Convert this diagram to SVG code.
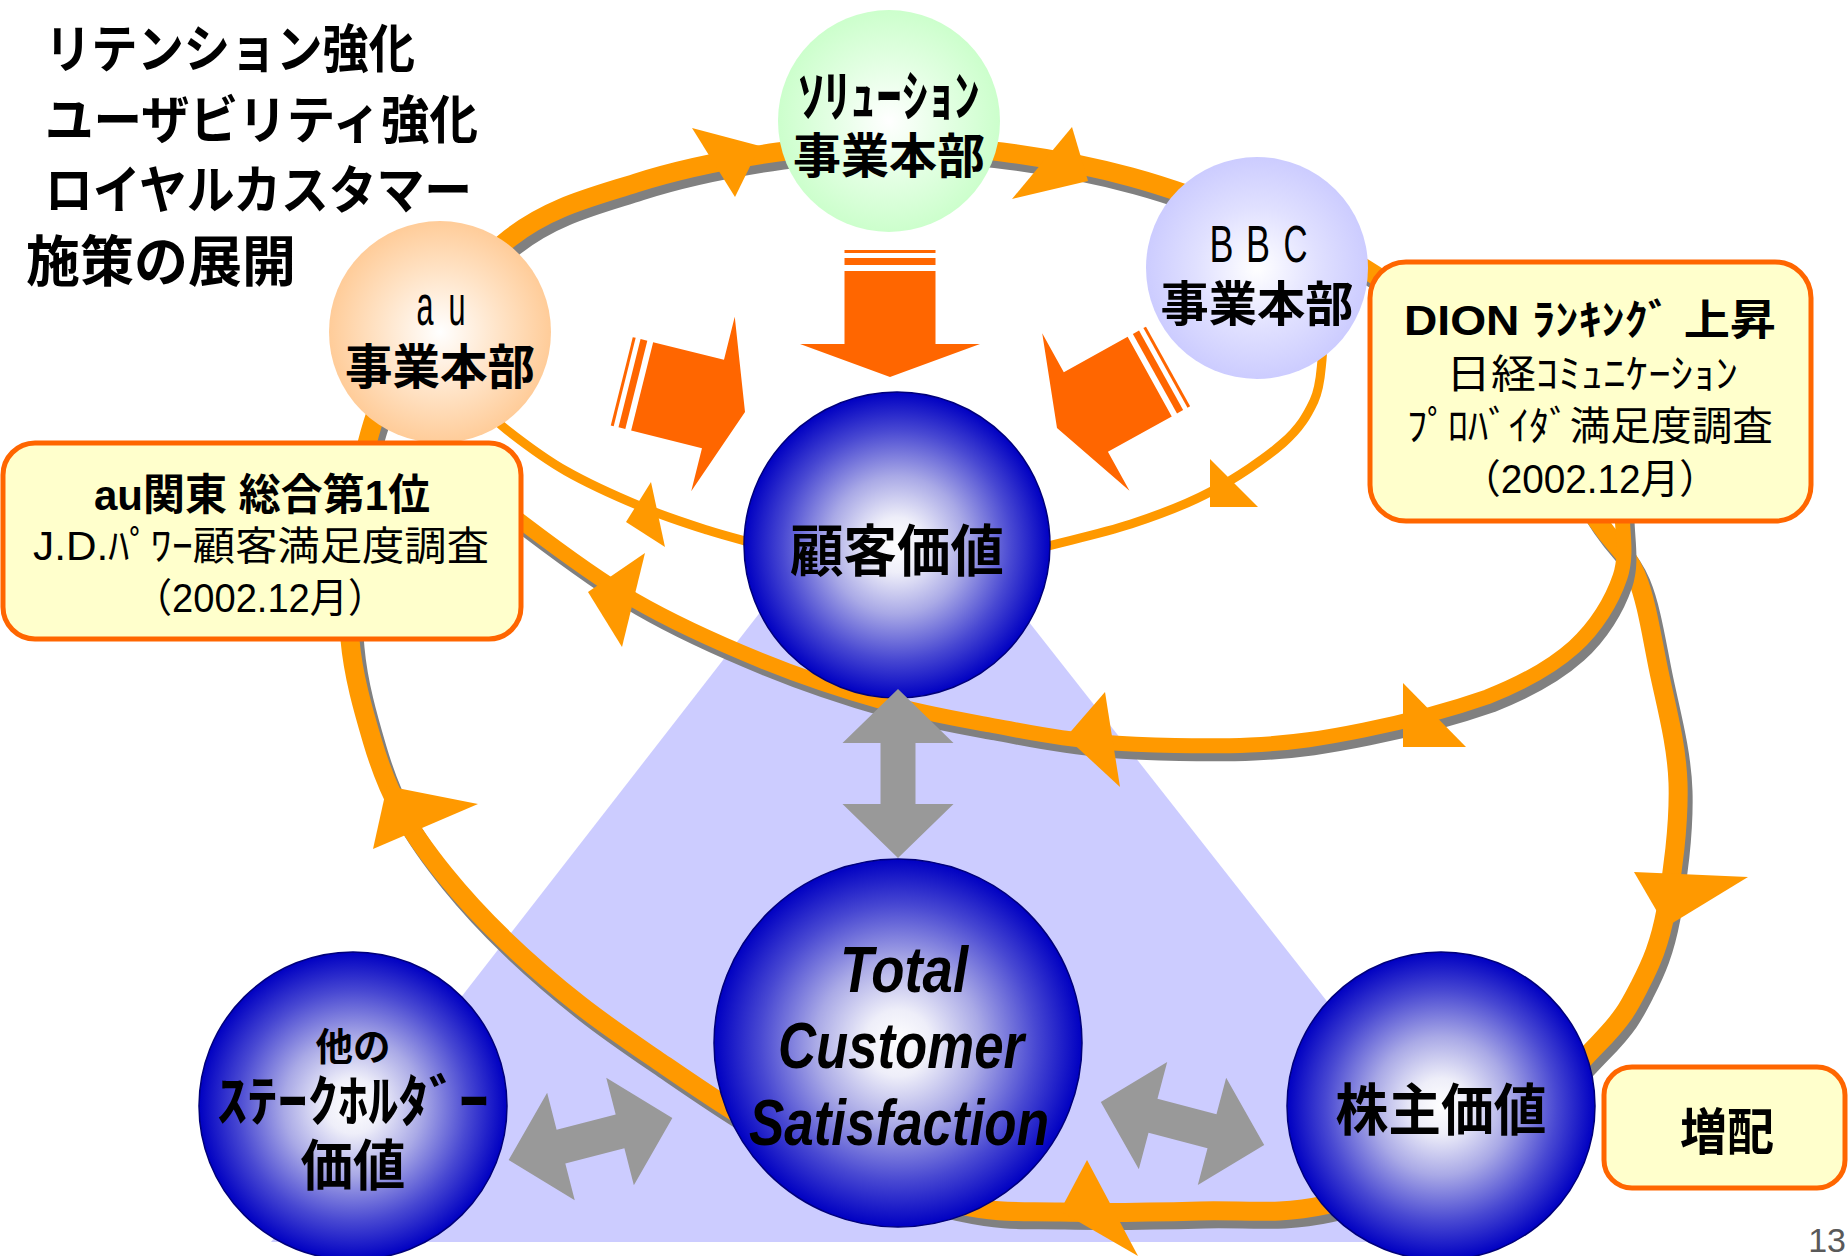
<svg xmlns="http://www.w3.org/2000/svg" width="1848" height="1256" viewBox="0 0 1848 1256">
<style>
.title{font-family:"Noto Sans CJK JP","Noto Sans CJK SC",sans-serif;font-weight:700;fill:#000}
.nt{font-family:"Noto Sans CJK JP","Noto Sans CJK SC",sans-serif;font-weight:700;fill:#000;text-anchor:middle}
.lat{font-family:"Liberation Sans","Noto Sans CJK JP",sans-serif;fill:#000;text-anchor:middle}
.bx{font-family:"Liberation Sans","Noto Sans CJK JP",sans-serif;fill:#000;text-anchor:middle}
.tcs{font-family:"Liberation Sans",sans-serif;font-style:italic;font-weight:700;fill:#000;text-anchor:middle;font-size:64px}
.band{fill:none;stroke:#FF9900;stroke-linecap:butt}
.shadow{fill:none;stroke:#808080}
.head{fill:#FF9900}
.blk{fill:#FF6600}
.gray{fill:#999999}
.box{fill:#FFFFCC;stroke:#FF6600;stroke-width:5}
.sphere{stroke:#00007A;stroke-width:1.5}
</style>
<defs>
<radialGradient id="gBlue" cx="50%" cy="50%" r="50%">
<stop offset="0" stop-color="#FFFFFF"/>
<stop offset="0.18" stop-color="#EEEEF9"/>
<stop offset="0.45" stop-color="#A9A9E6"/>
<stop offset="0.75" stop-color="#4848D2"/>
<stop offset="1" stop-color="#0000C2"/>
</radialGradient>
<radialGradient id="gPeach" cx="50%" cy="50%" r="50%">
<stop offset="0" stop-color="#FFFFFF"/>
<stop offset="0.55" stop-color="#FFE3C6"/>
<stop offset="1" stop-color="#FFCC99"/>
</radialGradient>
<radialGradient id="gGreen" cx="50%" cy="50%" r="50%">
<stop offset="0" stop-color="#FFFFFF"/>
<stop offset="0.55" stop-color="#E2FFE2"/>
<stop offset="1" stop-color="#CCFFCC"/>
</radialGradient>
<radialGradient id="gLav" cx="50%" cy="50%" r="50%">
<stop offset="0" stop-color="#FFFFFF"/>
<stop offset="0.55" stop-color="#E0E0FF"/>
<stop offset="1" stop-color="#CCCCFF"/>
</radialGradient>
<g id="blkArrow">
<rect x="-45.5" y="-127" width="91" height="3"/>
<rect x="-45.5" y="-119" width="91" height="7"/>
<polygon points="-45.5,-106 45.5,-106 45.5,-33 90,-33 0,0 -90,-33 -45.5,-33"/>
</g>
<polygon id="dblArrow" points="-84.5,0 -30.5,-55.5 -30.5,-17.5 30.5,-17.5 30.5,-55.5 84.5,0 30.5,55.5 30.5,17.5 -30.5,17.5 -30.5,55.5"/>
<path id="loopA" d="M510,238 C550.2,206.8 591.3,197.3 636,183 C680.7,168.7 735.7,158.2 778,152 C820.3,145.8 852.7,146 890,146 C927.3,146 961.8,146.8 1002,152 C1042.2,157.2 1088,165.3 1131,177 C1174,188.7 1219.3,205.7 1260,222 C1300.7,238.3 1334.2,247.8 1375,275 C1415.8,302.2 1468,344.2 1505,385 C1542,425.8 1575.2,488.3 1597,520 C1618.8,551.7 1625.8,550.5 1636,575 C1646.2,599.5 1651,632.3 1658,667 C1665,701.7 1676.7,742.5 1678,783 C1679.3,823.5 1672.3,876.3 1666,910 C1659.7,943.7 1651.5,962.5 1640,985 C1628.5,1007.5 1623.7,1017.5 1597,1045 C1570.3,1072.5 1525.3,1123.3 1480,1150 C1434.7,1176.7 1371.7,1194.8 1325,1205 C1278.3,1215.2 1244.2,1209.8 1200,1211 C1155.8,1212.2 1100,1213 1060,1212 C1020,1211 1000,1213.7 960,1205 C920,1196.3 856.7,1175 820,1160 C783.3,1145 766.7,1131.3 740,1115 C713.3,1098.7 686.7,1080.3 660,1062 C633.3,1043.7 605.8,1025.3 580,1005 C554.2,984.7 527.5,961.7 505,940 C482.5,918.3 462.5,896.7 445,875 C427.5,853.3 412.2,832.5 400,810 C387.8,787.5 380.3,768.3 372,740 C363.7,711.7 353.3,676.7 350,640 C346.7,603.3 344.5,565 352,520 C359.5,475 368.7,417 395,370 C421.3,323 469.8,269.2 510,238 Z"/>
<path id="loopB" d="M1622,505 C1621.3,529 1628,553.3 1620,577 C1612,600.7 1596.2,627 1574,647 C1551.8,667 1522,683.2 1487,697 C1447.5,710.8 1403.5,722 1364,730 C1324.5,738 1294,743 1250,745 C1206,747 1143.3,745.3 1100,742 C1056.7,738.7 1026.2,731.7 990,725 C953.8,718.3 921.3,712.8 883,702 C844.7,691.2 801.5,677 760,660 C718.5,643 673.5,622.8 634,600 C594.5,577.2 553.7,546.3 523,523 C492.3,499.7 474.3,481 450,460"/>
</defs>

<rect width="1848" height="1256" fill="#FFFFFF"/>

<g id="title">
<text class="title" x="45" y="68" font-size="52" textLength="370" lengthAdjust="spacingAndGlyphs">リテンション強化</text>
<text class="title" x="45" y="139" font-size="52" textLength="433" lengthAdjust="spacingAndGlyphs">ユーザビリティ強化</text>
<text class="title" x="45" y="209" font-size="52" textLength="427" lengthAdjust="spacingAndGlyphs">ロイヤルカスタマー</text>
<text class="title" x="26" y="281" font-size="55" textLength="270" lengthAdjust="spacingAndGlyphs">施策の展開</text>
</g>

<polygon id="tcs-field" points="890,445 1516,1242 271,1242" fill="#CCCCFF"/>

<g id="connectors">
<use href="#loopA" class="shadow" stroke-width="19" transform="translate(5,8)"/>
<use href="#loopA" class="band" stroke-width="19"/>
<use href="#loopB" class="shadow" stroke-width="15" transform="translate(5,8)"/>
<use href="#loopB" class="band" stroke-width="15"/>
<path class="band" stroke-width="9" d="M478,402 C487.7,411.3 492.3,418.5 507,430 C521.7,441.5 543.5,458.2 566,471 C588.5,483.8 618.5,497.2 642,507 C665.5,516.8 687.3,523.7 707,530 C726.7,536.3 742.3,540 760,545"/>
<path class="band" stroke-width="9" d="M1040,548 C1070.3,540 1102.7,533.3 1131,524 C1159.3,514.7 1184.7,505.5 1210,492 C1235.3,478.5 1265.7,458.2 1283,443 C1300.3,427.8 1307.5,414.8 1314,401 C1320.5,387.2 1320.7,371.8 1322,360 C1323.3,348.2 1322,340 1322,330"/>
<polygon class="head" points="692,128 735,197 760,146"/>
<polygon class="head" points="1072,127 1012,199 1088,181"/>
<polygon class="head" points="1634,872 1748,877 1666,927"/>
<polygon class="head" points="1087,1160 1138,1256 1060,1211"/>
<polygon class="head" points="478,804 373,849 387,786"/>
<polygon class="head" points="1403,683 1403,747 1466,747"/>
<polygon class="head" points="1105,692 1120,787 1066,737"/>
<polygon class="head" points="645,553 622,647 588,592"/>
<polygon class="head" points="651,482 665,547 626,522"/>
<polygon class="head" points="1210,459 1210,507 1258,507"/>
<use href="#blkArrow" class="blk" transform="translate(890,377)"/>
<use href="#blkArrow" class="blk" transform="translate(745,412) rotate(-76)"/>
<use href="#blkArrow" class="blk" transform="translate(1057,428) rotate(61)"/>
</g>

<g id="node-solution">
<circle cx="889" cy="121" r="111" fill="url(#gGreen)"/>
<text class="nt" x="889" y="116" font-size="56" textLength="182" lengthAdjust="spacingAndGlyphs">ｿﾘｭｰｼｮﾝ</text>
<text class="nt" x="889" y="173" font-size="48" textLength="192" lengthAdjust="spacingAndGlyphs">事業本部</text>
</g>

<g id="node-bbc">
<circle cx="1257" cy="268" r="111" fill="url(#gLav)"/>
<text class="lat" x="1221.5" y="262" font-size="52" textLength="24" lengthAdjust="spacingAndGlyphs">B</text>
<text class="lat" x="1258" y="262" font-size="52" textLength="24" lengthAdjust="spacingAndGlyphs">B</text>
<text class="lat" x="1295.5" y="262" font-size="52" textLength="24" lengthAdjust="spacingAndGlyphs">C</text>
<text class="nt" x="1257" y="321" font-size="48" textLength="193" lengthAdjust="spacingAndGlyphs">事業本部</text>
</g>

<g id="node-au">
<circle cx="440" cy="332" r="111" fill="url(#gPeach)"/>
<text class="lat" x="425" y="325" font-size="58" textLength="17" lengthAdjust="spacingAndGlyphs">a</text>
<text class="lat" x="457" y="325" font-size="58" textLength="17" lengthAdjust="spacingAndGlyphs">u</text>
<text class="nt" x="440" y="384" font-size="48" textLength="190" lengthAdjust="spacingAndGlyphs">事業本部</text>
</g>

<g id="node-customer-value">
<circle class="sphere" cx="897" cy="545" r="153" fill="url(#gBlue)"/>
<text class="nt" x="897" y="571" font-size="56" textLength="214" lengthAdjust="spacingAndGlyphs">顧客価値</text>
</g>

<g id="node-tcs">
<circle class="sphere" cx="898" cy="1043" r="184" fill="url(#gBlue)"/>
<text class="tcs" x="904" y="992" textLength="128" lengthAdjust="spacingAndGlyphs">Total</text>
<text class="tcs" x="901" y="1068" textLength="246" lengthAdjust="spacingAndGlyphs">Customer</text>
<text class="tcs" x="899" y="1145" textLength="300" lengthAdjust="spacingAndGlyphs">Satisfaction</text>
</g>

<g id="node-shareholder">
<circle class="sphere" cx="1441" cy="1106" r="154" fill="url(#gBlue)"/>
<text class="nt" x="1441" y="1130" font-size="56" textLength="211" lengthAdjust="spacingAndGlyphs">株主価値</text>
</g>

<g id="node-stakeholder">
<circle class="sphere" cx="353" cy="1106" r="154" fill="url(#gBlue)"/>
<text class="nt" x="353" y="1060" font-size="38" textLength="75" lengthAdjust="spacingAndGlyphs">他の</text>
<text class="nt" x="353" y="1121" font-size="56" textLength="272" lengthAdjust="spacingAndGlyphs">ｽﾃｰｸﾎﾙﾀﾞｰ</text>
<text class="nt" x="353" y="1185" font-size="55" textLength="105" lengthAdjust="spacingAndGlyphs">価値</text>
</g>

<g id="value-arrows">
<use href="#dblArrow" class="gray" transform="translate(898,773.5) rotate(90)"/>
<use href="#dblArrow" class="gray" transform="translate(590.5,1139) rotate(-14.4)"/>
<use href="#dblArrow" class="gray" transform="translate(1182.5,1123.5) rotate(14.8)"/>
</g>

<g id="box-dion">
<rect class="box" x="1370" y="262" width="441" height="259" rx="36"/>
<text class="bx" x="1590" y="335" font-size="42" font-weight="700" textLength="372" lengthAdjust="spacingAndGlyphs">DION ﾗﾝｷﾝｸﾞ 上昇</text>
<text class="bx" x="1592" y="388" font-size="40" textLength="292" lengthAdjust="spacingAndGlyphs">日経ｺﾐｭﾆｹｰｼｮﾝ</text>
<text class="bx" x="1590" y="440" font-size="40" textLength="366" lengthAdjust="spacingAndGlyphs">ﾌﾟﾛﾊﾞｲﾀﾞ満足度調査</text>
<text class="bx" x="1590" y="493" font-size="40" textLength="256" lengthAdjust="spacingAndGlyphs">（2002.12月）</text>
</g>

<g id="box-au">
<rect class="box" x="3" y="443" width="518" height="196" rx="32"/>
<text class="bx" x="262" y="510" font-size="43" font-weight="700" textLength="336" lengthAdjust="spacingAndGlyphs">au関東 総合第1位</text>
<text class="bx" x="261" y="560" font-size="40" textLength="456" lengthAdjust="spacingAndGlyphs">J.D.ﾊﾟﾜｰ顧客満足度調査</text>
<text class="bx" x="260" y="612" font-size="40" textLength="252" lengthAdjust="spacingAndGlyphs">（2002.12月）</text>
</g>

<g id="box-dividend">
<rect class="box" x="1604" y="1067" width="241" height="121" rx="28"/>
<text class="nt" x="1727" y="1150" font-size="50" textLength="94" lengthAdjust="spacingAndGlyphs">増配</text>
</g>

<text x="1846" y="1252" font-family="Liberation Sans, sans-serif" font-size="34" fill="#595959" text-anchor="end">13</text>
</svg>
